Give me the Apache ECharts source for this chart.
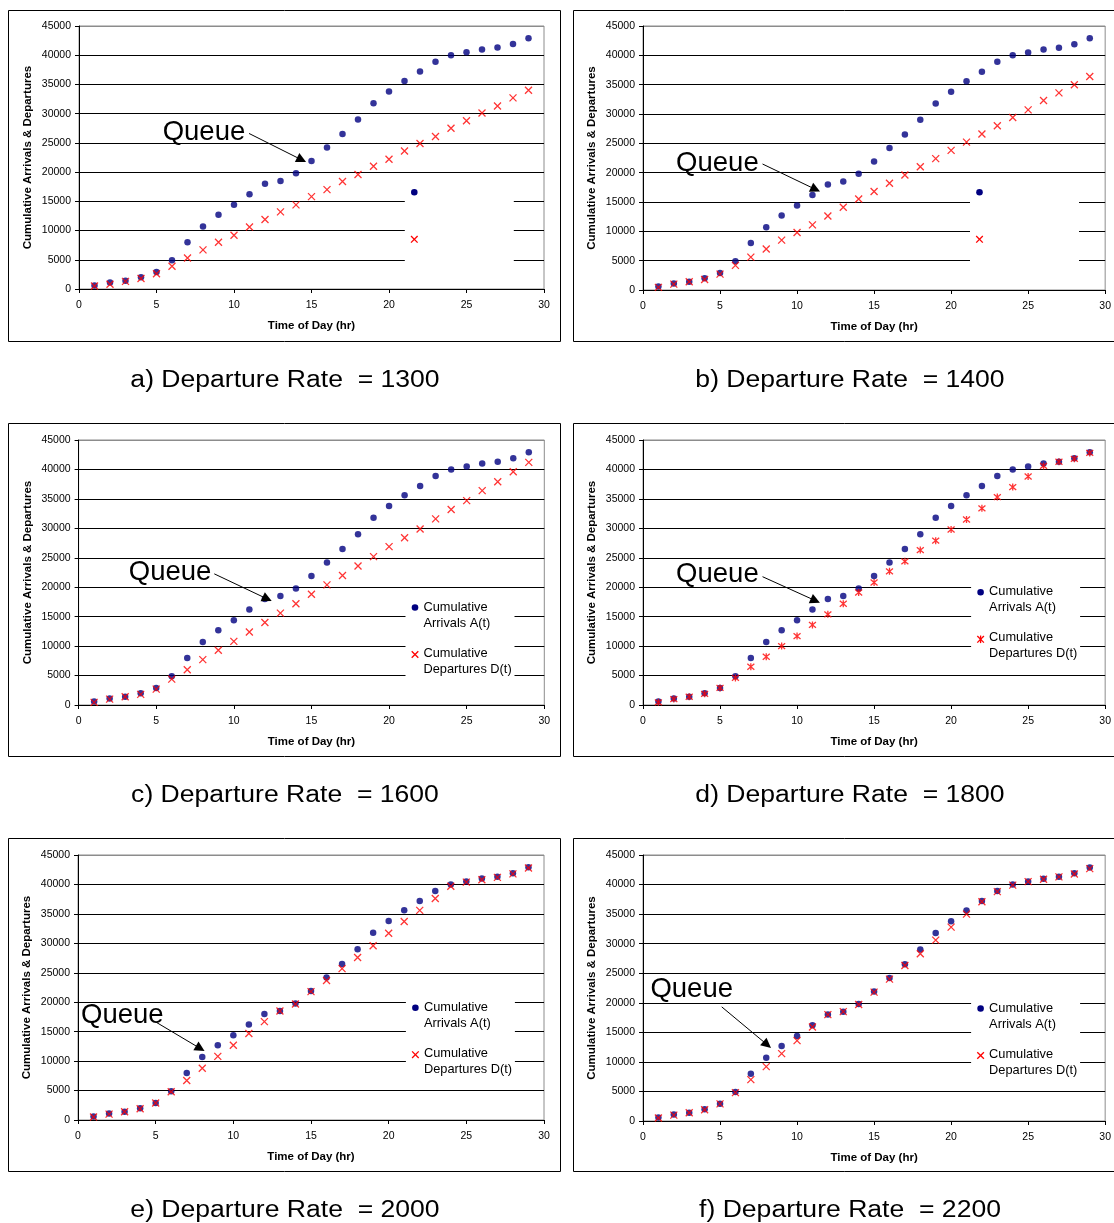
<!DOCTYPE html>
<html>
<head>
<meta charset="utf-8">
<script src="https://cdn.jsdelivr.net/npm/echarts@6/dist/echarts.min.js"></script>
<style>
  html, body { margin: 0; padding: 0; background: #fff; }
  #chart { width: 1114px; height: 1223px; }
</style>
</head>
<body>
<div id="chart"></div>
<script>
// Hour of day for every observation
const hours = [1, 2, 3, 4, 5, 6, 7, 8, 9, 10, 11, 12, 13, 14, 15, 16, 17, 18, 19, 20, 21, 22, 23, 24, 25, 26, 27, 28, 29];

// Cumulative arrivals A(t) (same demand in every scenario)
const arrivals = [600, 1100, 1400, 2000, 2900, 4900, 8000, 10700, 12700, 14400, 16200, 18000, 18500, 19800, 21900, 24200, 26500, 29000, 31800, 33800, 35600, 37200, 38900, 40000, 40500, 41000, 41300, 41900, 42900];

// Cumulative departures D(t) for each departure rate
const departures1300 = [500, 800, 1300, 1800, 2600, 3900, 5300, 6700, 8000, 9200, 10600, 11900, 13200, 14400, 15800, 17000, 18400, 19600, 21000, 22200, 23600, 24900, 26100, 27500, 28800, 30100, 31300, 32700, 34000];
const departures1400 = [450, 1000, 1400, 1800, 2700, 4200, 5600, 7000, 8500, 9800, 11100, 12600, 14100, 15500, 16800, 18200, 19600, 21000, 22400, 23800, 25200, 26600, 28000, 29400, 30700, 32300, 33600, 35000, 36400];
const departures1600 = [450, 1000, 1400, 1800, 2700, 4400, 6000, 7700, 9300, 10800, 12400, 14000, 15600, 17200, 18800, 20400, 22000, 23600, 25200, 26900, 28400, 29900, 31600, 33200, 34700, 36400, 37900, 39600, 41200];
const departures1800 = [450, 1000, 1400, 1900, 2900, 4600, 6500, 8200, 10000, 11700, 13600, 15400, 17200, 19100, 20800, 22700, 24400, 26300, 27900, 29800, 31500, 33400, 35300, 37000, 38800, 40600, 41300, 41800, 42800];
const departures2000 = [500, 1000, 1400, 1900, 2900, 4800, 6700, 8800, 10800, 12700, 14700, 16700, 18500, 19700, 21800, 23700, 25700, 27600, 29600, 31700, 33700, 35600, 37600, 39700, 40400, 40800, 41200, 41800, 42800];
const departures2200 = [500, 1000, 1400, 1900, 2900, 4800, 7000, 9200, 11400, 13600, 15900, 18000, 18500, 19700, 21800, 24000, 26300, 28300, 30600, 32800, 35000, 37100, 38800, 39900, 40500, 40900, 41300, 41800, 42700];

// Panel captions
const captions = [
  'a) Departure Rate  = 1300',
  'b) Departure Rate  = 1400',
  'c) Departure Rate  = 1600',
  'd) Departure Rate  = 1800',
  'e) Departure Rate  = 2000',
  'f) Departure Rate  = 2200'
];

// Axis ranges
const xRange = { min: 0, max: 30, interval: 5 };
const yRange = { min: 0, max: 45000, interval: 5000 };

const arrivalsName = 'Cumulative Arrivals A(t)';
const departuresName = 'Cumulative Departures D(t)';

const FONT = '"Liberation Sans", Arial, Helvetica, sans-serif';
const NAVY = '#000080';
const RED = '#ff0000';
const CROSS = 'path://M0,0L10,10M0,10L10,0';
const STAR = 'path://M0,0L10,10M0,10L10,0M5,-1L5,11';

// Layout of the six panels (pixels) and the "Queue" call-outs (axis units)
const panels = [
  { dep: departures1300, star: false,
    grid: { left: 79, top: 26, width: 465, height: 263 }, box: [8.5, 10.5, 552, 331], cap: [285, 380.5],
    legend: { x: 414.3, y: 192.3, text: false },
    queue: { label: [8.06, 26850], from: [10.97, 26612], to: [14.36, 22106] } },
  { dep: departures1400, star: false,
    grid: { left: 643, top: 26, width: 465, height: 264 }, box: [573.5, 10.5, 560, 331], cap: [850, 380.5],
    legend: { x: 979.5, y: 192.3, text: false },
    queue: { label: [4.83, 21600], from: [7.76, 21477], to: [11.2, 17148] } },
  { dep: departures1600, star: false,
    grid: { left: 78.6, top: 440, width: 465.7, height: 265 }, box: [8.5, 423.5, 552, 333], cap: [285, 795.5],
    legend: { x: 415, y: 607.5, text: true },
    queue: { label: [5.89, 22550], from: [8.74, 22271], to: [12.15, 18013] } },
  { dep: departures1800, star: true,
    grid: { left: 643, top: 440, width: 465, height: 265 }, box: [573.5, 423.5, 560, 333], cap: [850, 795.5],
    legend: { x: 980.6, y: 592.3, text: true },
    queue: { label: [4.83, 22250], from: [7.76, 21788], to: [11.19, 17722] } },
  { dep: departures2000, star: false,
    grid: { left: 78, top: 855, width: 466, height: 265 }, box: [8.5, 838.5, 552, 333], cap: [285, 1210.5],
    legend: { x: 415.4, y: 1007.7, text: true },
    queue: { label: [2.85, 17800], from: [5.03, 16604], to: [7.87, 12148] } },
  { dep: departures2200, star: false,
    grid: { left: 643, top: 855, width: 465, height: 266 }, box: [573.5, 838.5, 560, 333], cap: [850, 1210.5],
    legend: { x: 980.6, y: 1008.5, text: true },
    queue: { label: [3.16, 22250], from: [5.11, 19307], to: [8.06, 12905] } }
];

const pairs = (vals) => hours.map((h, i) => [h, vals[i]]);

const grids = [], xAxes = [], yAxes = [], series = [], graphics = [];

// Gridlines are black, the top one belongs to the grey plot-area frame
const gridColors = [];
for (let v = yRange.min; v <= yRange.max; v += yRange.interval) {
  gridColors.push(v === yRange.max ? '#8c8c8c' : '#000000');
}

const Z = 20;
const seg = (x1, y1, x2, y2, color, w) => ({
  type: 'line', z: Z + 1, shape: { x1: x1, y1: y1, x2: x2, y2: y2 }, style: { stroke: color, lineWidth: w }
});

panels.forEach((p, i) => {
  grids.push(Object.assign({ show: true, borderColor: '#8c8c8c', borderWidth: 1, backgroundColor: 'transparent', containLabel: false }, p.grid));

  xAxes.push({
    gridIndex: i, type: 'value', min: xRange.min, max: xRange.max, interval: xRange.interval,
    name: 'Time of Day (hr)', nameLocation: 'middle', nameGap: 31,
    nameTextStyle: { fontFamily: FONT, fontWeight: 'bold', fontSize: 11.5, color: '#000' },
    axisLine: { lineStyle: { color: '#000', width: 1 } },
    axisTick: { length: 4, lineStyle: { color: '#000' } },
    axisLabel: { fontFamily: FONT, fontSize: 10.5, color: '#000', margin: 11 },
    splitLine: { show: false }
  });

  yAxes.push({
    gridIndex: i, type: 'value', min: yRange.min, max: yRange.max, interval: yRange.interval,
    name: 'Cumulative Arrivals & Departures', nameLocation: 'middle', nameGap: 45,
    nameTextStyle: { fontFamily: FONT, fontWeight: 'bold', fontSize: 11.5, color: '#000' },
    axisLine: { show: true, lineStyle: { color: '#000', width: 1 } },
    axisTick: { show: true, length: 4, lineStyle: { color: '#000' } },
    axisLabel: { fontFamily: FONT, fontSize: 10.5, color: '#000', margin: 8, formatter: (v) => String(v) },
    splitLine: { show: true, lineStyle: { color: gridColors, width: 1 } }
  });

  series.push({
    name: arrivalsName, type: 'scatter', xAxisIndex: i, yAxisIndex: i,
    symbol: 'circle', symbolSize: 6.5,
    itemStyle: { color: NAVY },
    data: pairs(arrivals),
    markPoint: {
      silent: true, symbol: 'circle', symbolSize: 1,
      itemStyle: { color: 'rgba(0,0,0,0)' },
      label: { show: true, position: 'inside', formatter: 'Queue', fontFamily: FONT, fontSize: 27.5, color: '#000' },
      data: [{ coord: p.queue.label }]
    },
    markLine: {
      silent: true, symbol: ['none', 'triangle'], symbolSize: 10,
      label: { show: false },
      lineStyle: { color: '#000', width: 1, type: 'solid' },
      data: [[{ coord: p.queue.from }, { coord: p.queue.to }]]
    }
  });

  series.push({
    name: departuresName, type: 'scatter', xAxisIndex: i, yAxisIndex: i,
    symbol: p.star ? STAR : CROSS, symbolSize: 7,
    itemStyle: { color: RED, borderColor: RED, borderWidth: 1.3 },
    data: pairs(p.dep)
  });

  // Caption under the panel (set slightly wide, like the figure's lettering)
  graphics.push({
    type: 'text', silent: true, z: Z,
    x: p.cap[0], y: p.cap[1], scaleX: 1.13, scaleY: 1,
    style: { text: captions[i], x: 0, y: 0, fill: '#000', font: '23.5px ' + FONT, textAlign: 'center', textVerticalAlign: 'middle', align: 'center', verticalAlign: 'middle' }
  });

  // Panel frame
  graphics.push({
    type: 'rect', silent: true, z: Z,
    shape: { x: p.box[0], y: p.box[1], width: p.box[2], height: p.box[3] },
    style: { fill: 'none', stroke: '#000', lineWidth: 1 }
  });

  // Legend block: white box, markers and two-line labels
  const L = p.legend;
  const cy = L.y + 47;
  const children = [
    { type: 'rect', z: Z, shape: { x: L.x - 9.5, y: L.y - 15, width: 109, height: 93 }, style: { fill: '#fff' } },
    { type: 'circle', z: Z + 1, shape: { cx: L.x, cy: L.y, r: 3.3 }, style: { fill: NAVY } },
    seg(L.x - 3.3, cy - 3.3, L.x + 3.3, cy + 3.3, RED, 1.3),
    seg(L.x - 3.3, cy + 3.3, L.x + 3.3, cy - 3.3, RED, 1.3)
  ];
  if (p.star) children.push(seg(L.x, cy - 3.8, L.x, cy + 3.8, RED, 1.3));
  if (L.text) {
    const txt = (t, dy) => ({
      type: 'text', z: Z + 1, style: { text: t, x: L.x + 8.5, y: L.y + dy, fill: '#000', font: '12.8px ' + FONT, textVerticalAlign: 'middle', verticalAlign: 'middle' }
    });
    children.push(txt('Cumulative', -0.5), txt('Arrivals A(t)', 15.5), txt('Cumulative', 45.5), txt('Departures D(t)', 61.5));
  }
  children.forEach((c) => graphics.push(Object.assign({ silent: true }, c)));
});

const chart = echarts.init(document.getElementById('chart'), null, { renderer: 'canvas' });
chart.setOption({
  animation: false,
  backgroundColor: '#fff',
  grid: grids,
  xAxis: xAxes,
  yAxis: yAxes,
  series: series,
  graphic: graphics
});
</script>
</body>
</html>
